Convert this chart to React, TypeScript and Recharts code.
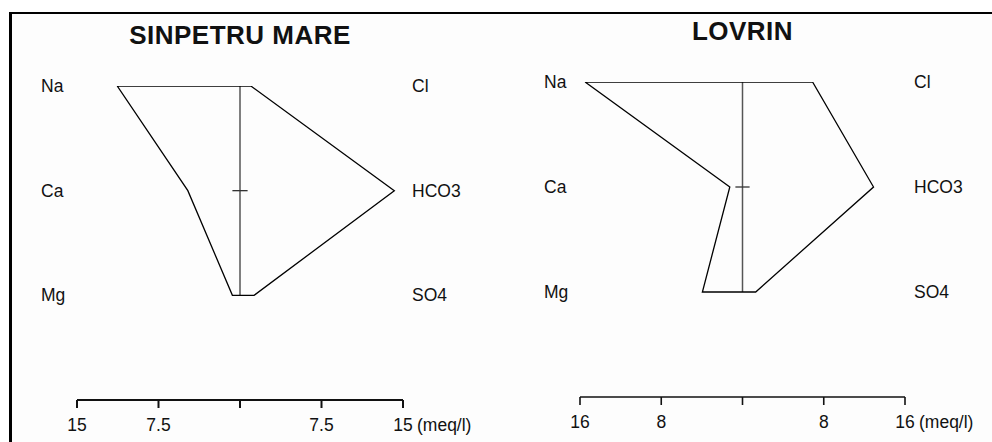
import { ScatterChart, Scatter, XAxis, YAxis, ReferenceLine } from "recharts";

const cations = ["Na", "Ca", "Mg"];
const anions = ["Cl", "HCO3", "SO4"];
const rowLevels = [3, 2, 1];

const sinpetruCations = [11.3, 4.8, 0.7];
const sinpetruAnions = [1.0, 14.2, 1.3];
const sinpetruTicks = [-15, -7.5, 0, 7.5, 15];

const lovrinCations = [15.5, 1.25, 3.95];
const lovrinAnions = [6.9, 12.9, 1.3];
const lovrinTicks = [-16, -8, 0, 8, 16];

const FONT = "'Liberation Sans', Arial, Helvetica, sans-serif";

function buildPolygon(cat: number[], an: number[]) {
  // walk round the Stiff shape: anions down the right, cations back up the left
  return [
    { x: -cat[0], y: rowLevels[0] },
    { x: an[0], y: rowLevels[0] },
    { x: an[1], y: rowLevels[1] },
    { x: an[2], y: rowLevels[2] },
    { x: -cat[2], y: rowLevels[2] },
    { x: -cat[1], y: rowLevels[1] },
    { x: -cat[0], y: rowLevels[0] },
  ];
}

interface StiffProps {
  title: string;
  cat: number[];
  an: number[];
  ticks: number[];
  width: number;
  height: number;
  top: number;
  bottom: number;
  leftW: number;
  rightW: number;
  axisStroke: number;
  centerTick: number;
}

function Stiff({ title, cat, an, ticks, width, height, top, bottom, leftW, rightW, axisStroke, centerTick }: StiffProps) {
  const data = buildPolygon(cat, an);
  const max = ticks[ticks.length - 1];
  const plotW = width - leftW - rightW;

  const LeftTick = (props: any) => {
    const idx = 3 - props.payload.value;
    return (
      <text x={leftW - 36} y={props.y + 6} fontSize={17.5} fontFamily={FONT} fill="#111" textAnchor="start">
        {cations[idx]}
      </text>
    );
  };
  const RightTick = (props: any) => {
    const idx = 3 - props.payload.value;
    return (
      <text x={leftW + plotW + 9} y={props.y + 6} fontSize={17.5} fontFamily={FONT} fill="#111" textAnchor="start">
        {anions[idx]}
      </text>
    );
  };
  const BottomTick = (props: any) => {
    const v = props.payload.value;
    const label = v === 0 ? "" : String(Math.abs(v));
    return (
      <g>
        <text x={props.x} y={props.y + 21} fontSize={17.5} fontFamily={FONT} fill="#111" textAnchor="middle">
          {label}
        </text>
        {v === max && (
          <text x={props.x + 14} y={props.y + 21} fontSize={17.5} fontFamily={FONT} fill="#111" textAnchor="start">
            (meq/l)
          </text>
        )}
      </g>
    );
  };

  return (
    <div style={{ position: "relative", width, height }}>
      <div
        style={{
          position: "absolute",
          left: leftW + plotW / 2 - 200,
          width: 400,
          top: top - 66,
          textAlign: "center",
          fontFamily: FONT,
          fontWeight: 700,
          fontSize: 26,
          lineHeight: "30px",
          letterSpacing: 0.5,
          color: "#111",
        }}
      >
        {title}
      </div>
      <ScatterChart width={width} height={height} margin={{ top, bottom: bottom - 30, left: 0, right: 0 }}>
        <XAxis
          type="number"
          dataKey="x"
          domain={[-max, max]}
          ticks={ticks}
          allowDataOverflow
          height={30}
          tickSize={8}
          tick={BottomTick}
          axisLine={{ stroke: "#111", strokeWidth: axisStroke }}
          tickLine={{ stroke: "#111", strokeWidth: axisStroke }}
        />
        <YAxis
          yAxisId="l"
          type="number"
          dataKey="y"
          domain={[0, 3]}
          ticks={[1, 2, 3]}
          allowDataOverflow
          width={leftW}
          axisLine={false}
          tickLine={false}
          tick={LeftTick}
        />
        <YAxis
          yAxisId="r"
          orientation="right"
          type="number"
          dataKey="y"
          domain={[0, 3]}
          ticks={[1, 2, 3]}
          allowDataOverflow
          width={rightW}
          axisLine={false}
          tickLine={false}
          tick={RightTick}
        />
        <ReferenceLine
          yAxisId="l"
          segment={[{ x: 0, y: rowLevels[2] }, { x: 0, y: rowLevels[0] }]}
          stroke="#555"
          strokeWidth={1.5}
        />
        <ReferenceLine
          yAxisId="l"
          segment={[{ x: -centerTick, y: rowLevels[1] }, { x: centerTick, y: rowLevels[1] }]}
          stroke="#333"
          strokeWidth={1.3}
        />
        <Scatter
          yAxisId="l"
          data={data}
          line={{ stroke: "#000", strokeWidth: 1.3 }}
          lineType="joint"
          shape={() => <g />}
          isAnimationActive={false}
        />
      </ScatterChart>
    </div>
  );
}

export default function App() {
  return (
    <div style={{ position: "absolute", left: 0, top: 0, width: 992, height: 442, background: "#fff", overflow: "hidden" }}>
      <div style={{ position: "absolute", left: 9, top: 12, width: 983, height: 430, borderLeft: "3px solid #000", borderTop: "2.5px solid #000", boxSizing: "border-box", background: "#fdfdfd" }} />
      <div style={{ position: "absolute", left: 0, top: 0 }}>
        <Stiff
          title="SINPETRU MARE"
          cat={sinpetruCations}
          an={sinpetruAnions}
          ticks={sinpetruTicks}
          width={496}
          height={442}
          top={86}
          bottom={42}
          leftW={77}
          rightW={93}
          axisStroke={2}
          centerTick={0.7}
        />
      </div>
      <div style={{ position: "absolute", left: 496, top: 0 }}>
        <Stiff
          title="LOVRIN"
          cat={lovrinCations}
          an={lovrinAnions}
          ticks={lovrinTicks}
          width={496}
          height={442}
          top={82}
          bottom={45}
          leftW={84}
          rightW={87}
          axisStroke={1.6}
          centerTick={0.7}
        />
      </div>
    </div>
  );
}
